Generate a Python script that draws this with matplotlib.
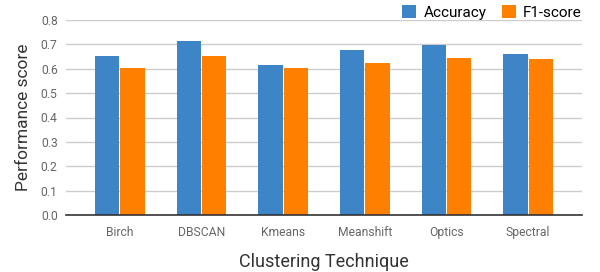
import matplotlib.pyplot as plt
import numpy as np

techniques = ["Birch", "DBSCAN", "Kmeans", "Meanshift", "Optics", "Spectral"]
accuracy = [0.652, 0.714, 0.615, 0.677, 0.697, 0.660]
f1_score = [0.603, 0.652, 0.603, 0.624, 0.644, 0.640]

plt.rcParams['font.family'] = ['Roboto', 'DejaVu Sans']

fig = plt.figure(figsize=(6, 2.72), dpi=100)
ax = fig.add_axes([66 / 600, 1 - 215 / 272, 516 / 600, 195 / 272])

x = np.arange(len(techniques))
w = 0.295
ax.bar(x - 0.155, accuracy, w, color='#3d85c6', label='Accuracy', zorder=3)
ax.bar(x + 0.155, f1_score, w, color='#ff7f00', label='F1-score', zorder=3)

ax.set_xlim(-0.66, 5.66)
ax.set_ylim(0, 0.8)
ax.set_yticks(np.arange(0, 0.81, 0.1))
ax.set_yticklabels(["%.1f" % v for v in np.arange(0, 0.81, 0.1)])
ax.set_xticks(x)
ax.set_xticklabels(techniques)
ax.tick_params(axis='both', length=0, labelsize=8.7, labelcolor='#666666')
ax.tick_params(axis='x', pad=8)
ax.tick_params(axis='y', pad=6)

ax.grid(axis='y', color='#cccccc', linewidth=1, zorder=0)
for s in ['top', 'right', 'left']:
    ax.spines[s].set_visible(False)
ax.spines['bottom'].set_color('#333333')
ax.spines['bottom'].set_linewidth(1.2)
ax.spines['bottom'].set_zorder(4)

ax.set_xlabel("Clustering Technique", fontsize=13, color='#333333', labelpad=10)
ax.set_ylabel("Performance score", fontsize=12.5, color='#333333', labelpad=7)

ax.legend(loc='lower right', bbox_to_anchor=(1.0, 1.0), ncol=2, frameon=False,
          fontsize=11, handlelength=0.9, handleheight=0.9, handletextpad=0.5,
          columnspacing=1.0, borderaxespad=0, borderpad=0)

fig.savefig("out.png", dpi=100)
